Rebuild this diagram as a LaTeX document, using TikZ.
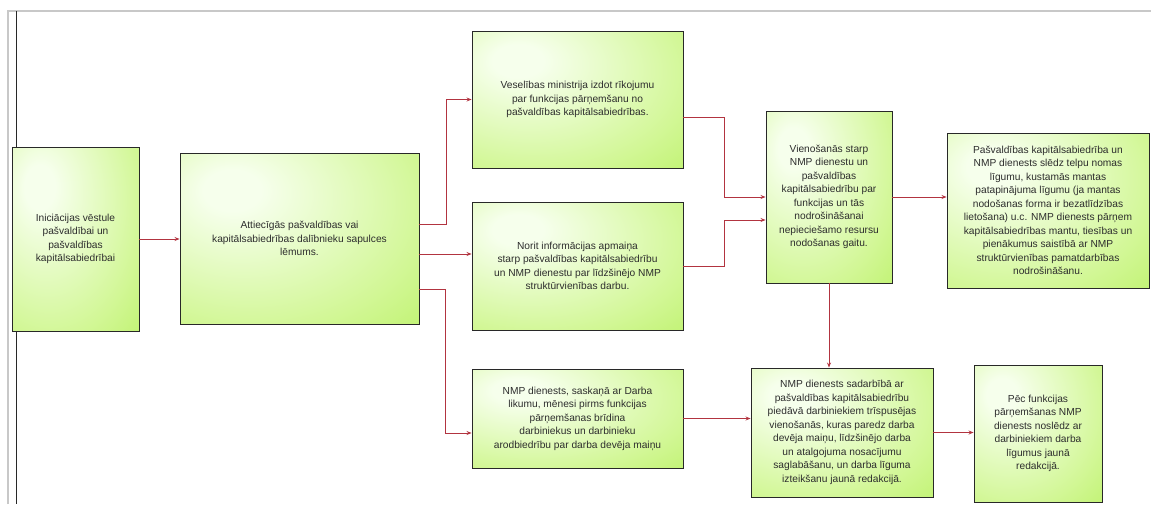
\documentclass[tikz,border=0pt]{standalone}
\usepackage{fontspec}
\setmainfont{Liberation Sans}
\definecolor{myArrowRed}{RGB}{178,52,64}
\definecolor{myBoxEdge}{RGB}{40,40,40}
\definecolor{myGlowLight}{RGB}{246,255,236}
\definecolor{myGlowMid}{RGB}{210,247,150}
\definecolor{myGlowGreen}{RGB}{174,238,76}
\definecolor{myTextGray}{RGB}{45,45,45}
\definecolor{myFrameGray}{RGB}{200,200,200}
\usetikzlibrary{arrows.meta, calc}
\pgfdeclareradialshading{myGlow}{\pgfpoint{-15bp}{15bp}}{color(0bp)=(myGlowLight); color(6bp)=(myGlowLight); color(36bp)=(myGlowMid); color(62bp)=(myGlowGreen); color(100bp)=(myGlowGreen)}

\begin{document}
\begin{tikzpicture}[x=1pt, y=-1pt, font=\fontsize{10.2}{13.5}\selectfont,
    procbox/.style={draw=myBoxEdge, line width=0.9pt, shade, shading=myGlow,
      align=center, text=myTextGray, inner sep=2pt},
    flow/.style={draw=myArrowRed, line width=0.8pt, -{Stealth[length=5pt, width=4pt]}}]
  \useasboundingbox (0,0) rectangle (1151,504);

  % frame of the page
  \draw[myFrameGray, line width=1.2pt] (8,504) -- (8,11) -- (1151,11);
  \draw[myBoxEdge, line width=0.9pt] (16,11) -- (16,504);

  \node[procbox, minimum width=127pt, minimum height=184pt] (init) at (75.5,239)
    {Iniciācijas vēstule\\pašvaldībai un\\pašvaldības\\kapitālsabiedrībai};
  \node[procbox, minimum width=239pt, minimum height=171pt] (lemums) at (299.5,238.5)
    {Attiecīgās pašvaldības vai\\kapitālsabiedrības dalībnieku sapulces\\lēmums.};
  \node[procbox, minimum width=211pt, minimum height=137pt] (rikojums) at (577.5,99.5)
    {Veselības ministrija izdot rīkojumu\\par funkcijas pārņemšanu no\\pašvaldības kapitālsabiedrības.};
  \node[procbox, minimum width=211pt, minimum height=128pt] (apmaina) at (577.5,266)
    {Norit informācijas apmaiņa\\starp pašvaldības kapitālsabiedrību\\un NMP dienestu par līdzšinējo NMP\\struktūrvienības darbu.};
  \node[procbox, minimum width=211pt, minimum height=99pt] (bridina) at (577.5,418.5)
    {NMP dienests, saskaņā ar Darba\\likumu, mēnesi pirms funkcijas\\pārņemšanas brīdina\\darbiniekus un darbinieku\\arodbiedrību par darba devēja maiņu};
  \node[procbox, minimum width=126pt, minimum height=172pt] (vienosanas) at (829,197)
    {Vienošanās starp\\NMP dienestu un\\pašvaldības\\kapitālsabiedrību par\\funkcijas un tās\\nodrošināšanai\\nepieciešamo resursu\\nodošanas gaitu.};
  \node[procbox, minimum width=202pt, minimum height=155pt] (nodosana) at (1048,210.5)
    {Pašvaldības kapitālsabiedrība un\\NMP dienests slēdz telpu nomas\\līgumu, kustamās mantas\\patapinājuma līgumu (ja mantas\\nodošanas forma ir bezatlīdzības\\lietošana) u.c. NMP dienests pārņem\\kapitālsabiedrības mantu, tiesības un\\pienākumus saistībā ar NMP\\struktūrvienības pamatdarbības\\nodrošināšanu.};
  \node[procbox, minimum width=182pt, minimum height=129pt] (sadarbiba) at (842,432.5)
    {NMP dienests sadarbībā ar\\pašvaldības kapitālsabiedrību\\piedāvā darbiniekiem trīspusējas\\vienošanās, kuras paredz darba\\devēja maiņu, līdzšinējo darba\\un atalgojuma nosacījumu\\saglabāšanu, un darba līguma\\izteikšanu jaunā redakcijā.};
  \node[procbox, minimum width=128pt, minimum height=137pt] (jaunie) at (1038,433.5)
    {Pēc funkcijas\\pārņemšanas NMP\\dienests noslēdz ar\\darbiniekiem darba\\līgumus jaunā\\redakcijā.};

  % connectors
  \coordinate (lemA) at ([yshift=14.5pt]lemums.east);
  \coordinate (lemB) at ([yshift=-15.5pt]lemums.east);
  \coordinate (lemC) at ([yshift=-50.5pt]lemums.east);
  \coordinate (rikA) at ([yshift=-17.5pt]rikojums.east);
  \draw[flow] (init.east) -- (init.east -| lemums.west);
  \draw[flow] (lemA) -- ++(27,0) |- (rikojums.west);
  \draw[flow] (lemB) -- (lemB -| apmaina.west);
  \draw[flow] (lemC) -- ++(26,0) |- ([yshift=-14.5pt]bridina.west);
  \draw[flow] (rikA) -- ++(41,0) |- (vienosanas.west);
  \draw[flow] (apmaina.east) -- ++(41,0) |- ([yshift=-23pt]vienosanas.west);
  \draw[flow] (vienosanas.east) -- (vienosanas.east -| nodosana.west);
  \draw[flow] (vienosanas.south) -- (vienosanas.south |- sadarbiba.north);
  \draw[flow] (bridina.east) -- (bridina.east -| sadarbiba.west);
  \draw[flow] (sadarbiba.east) -- (sadarbiba.east -| jaunie.west);
\end{tikzpicture}
\end{document}
